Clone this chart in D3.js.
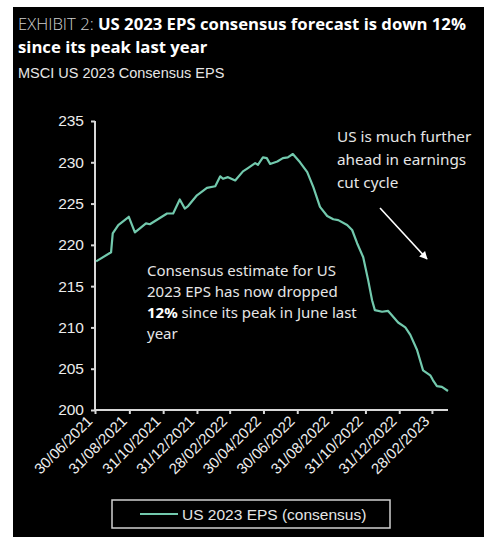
<!DOCTYPE html>
<html><head><meta charset="utf-8">
<script src="https://cdn.jsdelivr.net/npm/d3@7"></script>
<style>
html,body{margin:0;padding:0;background:#fff;}
svg{display:block;}
</style></head>
<body>
<svg id="c" width="484" height="537"></svg>
<script>
const dates = ["2021-07-02","2021-07-29","2021-08-01","2021-08-11","2021-08-30","2021-09-10","2021-09-19","2021-09-30","2021-10-07","2021-11-07","2021-11-18","2021-11-30","2021-12-09","2021-12-15","2021-12-31","2022-01-18","2022-02-02","2022-02-11","2022-02-16","2022-02-25","2022-03-10","2022-03-24","2022-04-02","2022-04-15","2022-04-20","2022-04-29","2022-05-06","2022-05-12","2022-05-25","2022-06-04","2022-06-13","2022-06-22","2022-07-05","2022-07-18","2022-07-29","2022-08-10","2022-08-23","2022-09-03","2022-09-12","2022-09-28","2022-10-07","2022-10-16","2022-10-27","2022-11-05","2022-11-12","2022-11-17","2022-11-30","2022-12-11","2022-12-20","2022-12-29","2023-01-11","2023-01-20","2023-02-01","2023-02-12","2023-02-25","2023-03-02","2023-03-09","2023-03-18","2023-03-29"];
const eps = [218.0,219.1,221.4,222.4,223.4,221.5,222.0,222.6,222.5,223.8,223.8,225.5,224.4,224.7,226.0,226.9,227.1,228.3,228.0,228.2,227.8,228.9,229.3,229.9,229.7,230.6,230.5,229.8,230.1,230.5,230.6,231.0,230.0,228.8,227.0,224.6,223.5,223.1,223.0,222.4,221.8,220.2,218.5,215.7,213.3,212.1,211.9,212.0,211.3,210.6,210.0,209.1,207.3,204.8,204.2,203.6,202.9,202.8,202.3];
const xTickLabels = ["30/06/2021","31/08/2021","31/10/2021","31/12/2021","28/02/2022","30/04/2022","30/06/2022","31/08/2022","31/10/2022","31/12/2022","28/02/2023"];
const yTicks = [200,205,210,215,220,225,230,235];
const seriesName = "US 2023 EPS (consensus)";

const parseISO = d3.timeParse("%Y-%m-%d");
const parseDMY = d3.timeParse("%d/%m/%Y");
const data = dates.map((d,i)=>({date:parseISO(d), v:eps[i]}));
const tickDates = xTickLabels.map(parseDMY);

const svg = d3.select("#c");
svg.append("rect").attr("x",13).attr("y",7).attr("width",471).attr("height",530).attr("fill","#000");

const x = d3.scaleTime().domain([parseDMY("30/06/2021"), parseISO("2023-03-29")]).range([95,448]);
const y = d3.scaleLinear().domain([200,235]).range([410,121]);

// Titles
const t1 = svg.append("text").attr("x",18).attr("y",30).attr("font-family","'Open Sans'").attr("font-size",16.7).attr("fill","#fff");
t1.append("tspan").text("EXHIBIT 2: ").attr("font-weight",300).attr("fill","#cfcfcf");
t1.append("tspan").text("US 2023 EPS consensus forecast is down 12%").attr("font-weight",700);
svg.append("text").attr("x",18).attr("y",53).attr("font-family","'Open Sans'").attr("font-size",16.7).attr("font-weight",700).attr("fill","#fff").text("since its peak last year");
svg.append("text").attr("x",18).attr("y",78).attr("font-family","'Liberation Sans'").attr("font-size",14.5).attr("fill","#e6e6e6").text("MSCI US 2023 Consensus EPS");

// Axes
const axisColor = "#d8d8d8";
const yAxis = svg.append("g").attr("transform","translate(95,0)")
  .call(d3.axisLeft(y).tickValues(yTicks).tickSize(4).tickPadding(7));
const xAxis = svg.append("g").attr("transform","translate(0,410)")
  .call(d3.axisBottom(x).tickValues(tickDates).tickSize(4).tickFormat((d,i)=>xTickLabels[i]));
[yAxis,xAxis].forEach(g=>{
  g.select(".domain").attr("stroke",axisColor).attr("stroke-width",2);
  g.selectAll(".tick line").attr("stroke",axisColor).attr("stroke-width",2);
  g.selectAll("text").attr("fill","#ededed").attr("font-family","'Liberation Sans'").attr("font-size",15.5);
});
yAxis.select(".domain").attr("d","M0,121V410");
xAxis.select(".domain").attr("d","M95,0H448");
xAxis.selectAll(".tick text").attr("text-anchor","end").attr("y",0).attr("dy",0)
  .attr("transform","translate(-2,12) rotate(-45)").attr("font-size",15);

// Line
svg.append("path").datum(data)
  .attr("d", d3.line().x(d=>x(d.date)).y(d=>y(d.v)))
  .attr("fill","none").attr("stroke","#72c9ad").attr("stroke-width",2.2).attr("stroke-linejoin","round");

// Annotations
const annFont = "'Noto Sans'";
const a1 = ["US is much further","ahead in earnings","cut cycle"];
a1.forEach((s,i)=>svg.append("text").attr("x",337).attr("y",142+i*23).attr("font-family",annFont)
  .attr("font-size",15.3).attr("fill","#e6e6e6").text(s));
svg.append("defs").append("marker").attr("id","ah").attr("viewBox","0 0 10 10").attr("refX",9).attr("refY",5)
  .attr("markerWidth",5).attr("markerHeight",5).attr("orient","auto")
  .append("path").attr("d","M0,0L10,5L0,10z").attr("fill","#fff");
svg.append("line").attr("x1",380).attr("y1",208).attr("x2",427).attr("y2",259)
  .attr("stroke","#fff").attr("stroke-width",1.6).attr("marker-end","url(#ah)");

const a2 = svg.append("g").attr("font-family",annFont).attr("font-size",15).attr("fill","#e6e6e6");
a2.append("text").attr("x",147).attr("y",276).text("Consensus estimate for US");
a2.append("text").attr("x",147).attr("y",297).text("2023 EPS has now dropped");
const l3 = a2.append("text").attr("x",147).attr("y",318);
l3.append("tspan").attr("font-weight",700).attr("fill","#fff").text("12%");
l3.append("tspan").text(" since its peak in June last");
a2.append("text").attr("x",147).attr("y",339).text("year");

// Legend
svg.append("rect").attr("x",112).attr("y",500).attr("width",278).attr("height",28)
  .attr("fill","none").attr("stroke","#d0d0d0").attr("stroke-width",1.5);
svg.append("line").attr("x1",140).attr("x2",178).attr("y1",514).attr("y2",514).attr("stroke","#72c9ad").attr("stroke-width",2.2);
svg.append("text").attr("x",182).attr("y",519.5).attr("font-family","'Liberation Sans'").attr("font-size",15.5)
  .attr("fill","#e6e6e6").text(seriesName);
</script>
</body></html>
